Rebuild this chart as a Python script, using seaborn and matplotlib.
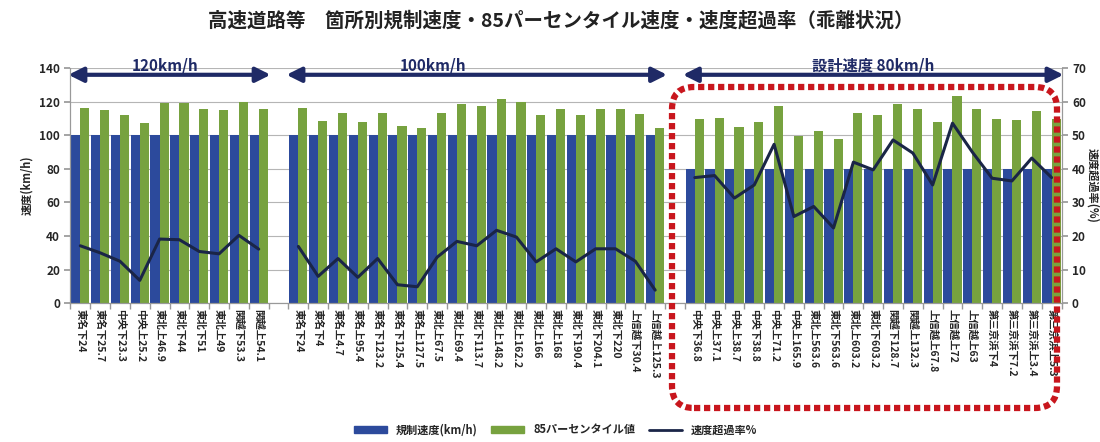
# 高速道路等 箇所別規制速度・85パーセンタイル速度・速度超過率
import pandas as pd
import seaborn as sns
import matplotlib.pyplot as plt
from matplotlib.patches import FancyBboxPatch, Patch
from matplotlib.lines import Line2D

sns.set_theme(style='white')
plt.rcParams['font.family'] = ['Noto Sans CJK JP', 'DejaVu Sans']

# data
g1_labels = ['東名下24', '東名下25.7', '中央下23.3', '中央上25.2', '東北上46.9',
             '東北下44', '東北下51', '東北上49', '関越下53.3', '関越上54.1']
g1_reg = [100, 100, 100, 100, 100, 100, 100, 100, 100, 100]
g1_p85 = [116.4, 114.9, 112.1, 107.5, 119.4, 119.4, 115.4, 114.9, 120.0, 115.4]
g1_rate = [17.1, 15.0, 12.5, 6.8, 19.1, 18.9, 15.4, 14.7, 20.2, 16.1]

g2_labels = ['東名下24', '東名下4', '東名上4.7', '東名上95.4', '東名下123.2',
             '東名下125.4', '東名上127.5', '東北上67.5', '東北上69.4', '東北下113.7',
             '東北上148.2', '東北上162.2', '東北上166', '東北上168', '東北下190.4',
             '東北下204.1', '東北下220', '上信越下30.4', '上信越上125.3']
g2_reg = [100, 100, 100, 100, 100, 100, 100, 100, 100, 100,
          100, 100, 100, 100, 100, 100, 100, 100, 100]
g2_p85 = [116.4, 108.5, 113.5, 107.7, 113.5, 105.7, 104.6, 113.5, 118.4, 117.4,
          121.4, 119.6, 112.1, 115.6, 112.1, 115.6, 115.6, 112.5, 104.4]
g2_rate = [16.9, 8.0, 13.3, 7.7, 13.3, 5.5, 4.9, 13.7, 18.4, 17.1,
           21.7, 19.7, 12.3, 16.2, 12.3, 16.2, 16.2, 12.5, 3.9]

g3_labels = ['中央下36.8', '中央上37.1', '中央上38.7', '中央下38.8', '中央上71.2',
             '中央上165.9', '東北上563.6', '東北下563.6', '東北上603.2', '東北下603.2',
             '関越下128.7', '関越上132.3', '上信越上67.8', '上信越上72', '上信越上63',
             '第三京浜下4', '第三京浜下7.2', '第三京浜上3.4', '第三京浜上5.3']
g3_reg = [80, 80, 80, 80, 80, 80, 80, 80, 80, 80,
          80, 80, 80, 80, 80, 80, 80, 80, 80]
g3_p85 = [109.7, 110.1, 104.8, 108.1, 117.6, 99.8, 102.8, 97.6, 113.3, 111.9,
          118.6, 115.4, 108.1, 123.4, 115.4, 109.7, 109.1, 114.5, 109.7]
g3_rate = [37.4, 38.0, 31.3, 35.2, 47.3, 25.8, 28.8, 22.4, 42.0, 39.7,
           48.6, 44.7, 35.2, 53.6, 45.0, 37.2, 36.4, 43.2, 37.4]

group_titles = ['120km/h', '100km/h', '設計速度 80km/h']

blue = '#2c4a9c'
green = '#77a23f'
navy = '#1a2547'
arrow_col = '#1f2a66'
red = '#c8161d'

# put the three groups on one axis with an empty slot between them
groups = [(g1_labels, g1_reg, g1_p85, g1_rate),
          (g2_labels, g2_reg, g2_p85, g2_rate),
          (g3_labels, g3_reg, g3_p85, g3_rate)]
bar_rows, line_rows, tick_labels, spans = [], [], [], []
slot = 0
for gi, (labs, reg, p85, rate) in enumerate(groups):
    start = slot
    for lab, r, p, k in zip(labs, reg, p85, rate):
        bar_rows.append({'slot': slot, 'series': '規制速度(km/h)', 'value': r})
        bar_rows.append({'slot': slot, 'series': '85パーセンタイル値', 'value': p})
        line_rows.append({'slot': slot, 'rate': k, 'group': gi})
        tick_labels.append(lab)
        slot += 1
    spans.append((start, slot - 1))
    if gi < len(groups) - 1:
        tick_labels.append('')
        slot += 1
n_slots = slot
bars = pd.DataFrame(bar_rows)
lines = pd.DataFrame(line_rows)

fig = plt.figure(figsize=(11, 4.42), dpi=100)
ax = fig.add_axes([0.064, 0.314, 0.901, 0.532])

sns.barplot(data=bars, x='slot', y='value', hue='series', order=list(range(n_slots)),
            hue_order=['規制速度(km/h)', '85パーセンタイル値'], palette=[blue, green],
            width=0.92, saturation=1, linewidth=0, legend=False, ax=ax)

ax2 = ax.twinx()
sns.lineplot(data=lines, x='slot', y='rate', units='group', estimator=None,
             color=navy, lw=2.2, legend=False, ax=ax2)

ax.set_xlim(-0.5, n_slots - 0.5)
ax.set_ylim(0, 140)
ax.set_yticks(range(0, 141, 20))
ax2.set_ylim(0, 70)
ax2.set_yticks(range(0, 71, 10))
ax.yaxis.grid(True, color='#b5b5b5', lw=0.8)
ax.set_axisbelow(True)

ax.set_xticks(range(n_slots))
ax.set_xticklabels(tick_labels, rotation=-90, fontsize=7.5, fontweight='bold')
ax.set_xticks([i + 0.5 for i in range(-1, n_slots)], minor=True)
ax.tick_params(axis='x', which='major', length=0, pad=4)
ax.tick_params(axis='x', which='minor', length=4, color='#999999', bottom=True)
ax.tick_params(axis='y', length=4, color='#999999', left=True, labelsize=8.5)
ax2.tick_params(axis='y', length=4, color='#999999', right=True, labelsize=8.5)
for t in ax.get_yticklabels() + ax2.get_yticklabels():
    t.set_fontweight('bold')

ax.set_xlabel('')
ax2.set_xlabel('')
ax.set_ylabel('速度(km/h)', fontsize=8, fontweight='bold', labelpad=4)
ax2.set_ylabel('速度超過率(%)', fontsize=8, fontweight='bold', rotation=270, labelpad=10)

for a in (ax, ax2):
    a.spines['top'].set_visible(False)
    for s in ('left', 'bottom', 'right'):
        a.spines[s].set_color('#999999')
        a.spines[s].set_linewidth(0.8)

# group arrows along the top
text_x = [4.3, 17.8, 40.0]
for (s0, s1), title, tx in zip(spans, group_titles, text_x):
    ax.annotate('', xy=(s1 + 0.6, 136), xytext=(s0 - 0.6, 136),
                arrowprops=dict(arrowstyle='<|-|>', color=arrow_col, lw=3,
                                mutation_scale=22, shrinkA=0, shrinkB=0),
                annotation_clip=False)
    ax.text(tx, 141.5, title, ha='center', va='center', fontsize=11,
            fontweight='bold', color=arrow_col, clip_on=False)

# red dotted frame around the 80km/h group
frame = FancyBboxPatch((6.72, 0.34), 3.85, 3.21,
                       boxstyle='round,pad=0,rounding_size=0.22',
                       transform=fig.dpi_scale_trans, fill=False, ec=red,
                       lw=4.5, linestyle=(0, (1, 0.6)))
fig.add_artist(frame)

fig.suptitle('高速道路等　箇所別規制速度・85パーセンタイル速度・速度超過率（乖離状況）',
             x=0.51, y=0.975, fontsize=14, fontweight='bold', color='#222222')

handles = [Patch(color=blue), Patch(color=green), Line2D([], [], color=navy, lw=2)]
fig.legend(handles, ['規制速度(km/h)', '85パーセンタイル値', '速度超過率%'],
           loc='lower center', bbox_to_anchor=(0.505, -0.01), ncol=3, frameon=False,
           handlelength=3, handleheight=0.5, columnspacing=1.2,
           prop={'size': 8, 'weight': 'bold'})

fig.savefig('out.png', dpi=100)
